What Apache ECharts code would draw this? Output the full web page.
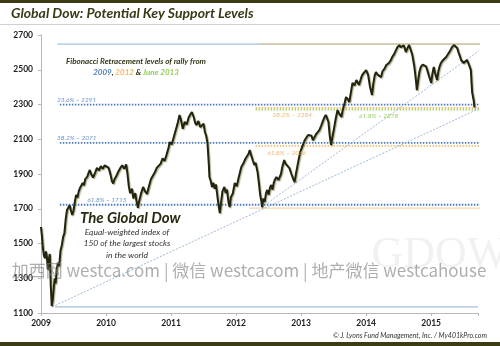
<!DOCTYPE html>
<html><head><meta charset="utf-8">
<script src="https://cdn.jsdelivr.net/npm/echarts@6/dist/echarts.min.js"></script>
<style>html,body{margin:0;padding:0;background:#fff}#c{width:500px;height:346px}</style>
</head><body><div id="c"></div>
<script>
// ---------- data ----------
const chartTitle = 'Global Dow: Potential Key Support Levels';
const xTickYears = [2009, 2010, 2011, 2012, 2013, 2014, 2015];
const yTickValues = [1100, 1300, 1500, 1700, 1900, 2100, 2300, 2500, 2700];

// [decimal year, index level]
const globalDow = [
[2009.00,1595],[2009.015,1540],[2009.03,1470],[2009.045,1430],[2009.06,1415],[2009.075,1455],[2009.09,1425],[2009.105,1350],[2009.12,1405],[2009.135,1440],[2009.15,1260],[2009.165,1140],[2009.18,1175],[2009.195,1240],[2009.21,1300],[2009.225,1270],[2009.24,1345],[2009.26,1390],[2009.28,1370],[2009.30,1460],[2009.32,1490],[2009.34,1537],[2009.36,1560],[2009.38,1640],[2009.40,1693],[2009.42,1700],[2009.44,1720],[2009.46,1690],[2009.48,1664],[2009.50,1690],[2009.52,1740],[2009.54,1780],[2009.56,1765],[2009.58,1800],[2009.60,1820],[2009.62,1810],[2009.64,1848],[2009.66,1835],[2009.68,1870],[2009.71,1883],[2009.73,1905],[2009.75,1923],[2009.77,1900],[2009.80,1880],[2009.83,1905],[2009.86,1935],[2009.89,1920],[2009.92,1945],[2009.95,1930],[2009.98,1950],
[2010.01,1960],[2010.04,1935],[2010.07,1895],[2010.09,1860],[2010.11,1845],[2010.13,1870],[2010.16,1890],[2010.19,1915],[2010.22,1935],[2010.25,1950],[2010.28,1930],[2010.31,1955],[2010.33,1900],[2010.35,1830],[2010.37,1790],[2010.40,1815],[2010.42,1760],[2010.45,1790],[2010.47,1740],[2010.49,1705],[2010.51,1745],[2010.54,1790],[2010.57,1825],[2010.60,1800],[2010.63,1785],[2010.66,1830],[2010.69,1870],[2010.72,1890],[2010.75,1910],[2010.78,1935],[2010.81,1925],[2010.84,1960],[2010.87,1990],[2010.90,1975],[2010.93,2010],[2010.96,2050],[2010.98,2084],
[2011.01,2070],[2011.04,2110],[2011.07,2150],[2011.10,2190],[2011.13,2240],[2011.15,2215],[2011.18,2160],[2011.21,2200],[2011.24,2185],[2011.27,2225],[2011.30,2245],[2011.32,2257],[2011.35,2225],[2011.37,2195],[2011.39,2182],[2011.42,2205],[2011.45,2170],[2011.47,2165],[2011.50,2190],[2011.52,2142],[2011.54,2120],[2011.56,2078],[2011.58,1960],[2011.59,1883],[2011.61,1860],[2011.63,1825],[2011.65,1850],[2011.67,1815],[2011.69,1840],[2011.71,1780],[2011.73,1720],[2011.75,1675],[2011.77,1740],[2011.79,1800],[2011.82,1825],[2011.84,1790],[2011.86,1810],[2011.88,1745],[2011.90,1710],[2011.92,1765],[2011.95,1790],[2011.98,1848],
[2012.01,1830],[2012.04,1880],[2012.06,1910],[2012.08,1940],[2012.11,1960],[2012.14,1985],[2012.16,1998],[2012.19,2015],[2012.21,2038],[2012.23,2010],[2012.26,1975],[2012.28,1952],[2012.30,1965],[2012.33,1911],[2012.35,1850],[2012.37,1780],[2012.39,1740],[2012.40,1710],[2012.42,1760],[2012.44,1740],[2012.46,1790],[2012.48,1808],[2012.50,1780],[2012.52,1820],[2012.54,1837],[2012.56,1810],[2012.58,1850],[2012.60,1870],[2012.62,1883],[2012.65,1865],[2012.67,1854],[2012.69,1900],[2012.71,1940],[2012.74,1980],[2012.76,1960],[2012.79,1955],[2012.82,1934],[2012.85,1900],[2012.88,1870],[2012.90,1854],[2012.92,1900],[2012.95,1960],[2012.97,1998],[2012.99,2030],
[2013.02,2060],[2013.05,2090],[2013.08,2110],[2013.11,2125],[2013.13,2136],[2013.16,2120],[2013.18,2095],[2013.20,2107],[2013.23,2130],[2013.26,2120],[2013.28,2153],[2013.31,2180],[2013.34,2210],[2013.36,2228],[2013.38,2240],[2013.40,2251],[2013.42,2200],[2013.44,2120],[2013.46,2067],[2013.48,2110],[2013.51,2171],[2013.53,2215],[2013.56,2268],[2013.58,2250],[2013.60,2240],[2013.62,2228],[2013.64,2270],[2013.67,2310],[2013.69,2343],[2013.72,2330],[2013.74,2314],[2013.77,2380],[2013.79,2424],[2013.82,2410],[2013.85,2441],[2013.87,2430],[2013.89,2412],[2013.92,2450],[2013.94,2470],[2013.97,2485],
[2014.00,2498],[2014.03,2470],[2014.06,2400],[2014.08,2370],[2014.09,2355],[2014.11,2420],[2014.13,2465],[2014.15,2487],[2014.18,2470],[2014.20,2480],[2014.23,2458],[2014.25,2490],[2014.28,2505],[2014.31,2527],[2014.33,2520],[2014.35,2539],[2014.38,2555],[2014.40,2573],[2014.43,2590],[2014.46,2614],[2014.48,2630],[2014.51,2642],[2014.53,2630],[2014.55,2625],[2014.58,2640],[2014.61,2602],[2014.63,2620],[2014.66,2642],[2014.68,2620],[2014.71,2585],[2014.74,2520],[2014.76,2458],[2014.78,2383],[2014.80,2440],[2014.82,2490],[2014.84,2516],[2014.87,2530],[2014.89,2539],[2014.92,2520],[2014.94,2498],[2014.97,2460],
[2015.00,2424],[2015.02,2480],[2015.04,2516],[2015.06,2480],[2015.09,2441],[2015.11,2490],[2015.13,2520],[2015.15,2539],[2015.18,2555],[2015.21,2565],[2015.23,2573],[2015.25,2585],[2015.27,2596],[2015.30,2615],[2015.32,2630],[2015.35,2642],[2015.37,2635],[2015.40,2625],[2015.42,2600],[2015.44,2580],[2015.46,2556],[2015.48,2545],[2015.50,2539],[2015.52,2550],[2015.55,2556],[2015.57,2540],[2015.59,2520],[2015.61,2498],[2015.62,2430],[2015.63,2370],[2015.645,2380],[2015.655,2320],[2015.665,2283]
];

// Fibonacci levels
const rallyHigh = 2648;
const low2009 = 1135;
const low2012 = 1704;
const fib2009 = [ {pct:'23.6%', v:2291}, {pct:'38.2%', v:2071}, {pct:'61.8%', v:1715} ];
const fib2012 = [ {pct:'38.2%', v:2284}, {pct:'61.8%', v:2066} ];
const fib2013 = [ {pct:'61.8%', v:2278} ];
const span2009 = [2009.29, 2015.75];
const span2012 = [2012.30, 2015.75];
const span2013 = [2012.30, 2015.75];
const trend2009 = [[2009.17, 1135], [2015.89, 2303]];
const trend2012 = [[2012.40, 1710], [2015.73, 2608]];
const labelYears2009 = [2009.245, 2009.245, 2009.71];
const labelYears2012 = [2012.56, 2012.48];
const labelYears2013 = [2013.89];

// ---------- styles ----------
const C_BLUE = '#4a78bf', C_TAN = '#f0c070', C_GREEN = '#a8d870';
const C_TREND = '#9fb6dc', C_DARK = '#37371a';

const chart = echarts.init(document.getElementById('c'), null, {renderer: 'canvas'});

function hLine(v, span, color, type, width, z) {
  return { type: 'line', data: [[span[0], v], [span[1], v]], symbol: 'none', silent: true,
    clip: false, animation: false, z: z || 2,
    lineStyle: { color: color, width: width, type: type } };
}
function lbl(year, v, text, color, dy) {
  return { value: [year, v], label: { show: true, formatter: text, color: color, offset: [0, dy] } };
}
const series = [];
series.push(hLine(rallyHigh, [2009.25, 2015.75], '#a8bee0', 'solid', 1.2));
series.push(hLine(rallyHigh, [2012.35, 2015.75], '#d8c890', 'solid', 1.2, 3));
series.push(hLine(low2009, [2009.22, 2015.72], '#a8bee0', 'solid', 1.2));
series.push(hLine(low2012, [2012.20, 2015.75], '#f3d8a4', 'solid', 1.2));
fib2013.forEach(f => series.push(hLine(f.v - 8, span2013, C_GREEN, [1.5, 1.5], 1.8, 3)));
fib2012.forEach(f => series.push(hLine(f.v - 4, span2012, C_TAN, [1.5, 1.5], 1.8, 3)));
fib2009.forEach(f => series.push(hLine(f.v + 8, span2009, C_BLUE, [1.5, 1.5], 1.8, 4)));
series.push({ type: 'line', data: trend2009, symbol: 'none', clip: false, silent: true, animation: false, z: 5,
  lineStyle: { color: C_TREND, width: 1, type: [2, 1.5] } });
series.push({ type: 'line', data: trend2012, symbol: 'none', clip: false, silent: true, animation: false, z: 5,
  lineStyle: { color: C_TREND, width: 1, type: [2, 1.5] } });
series.push({ type: 'line', data: globalDow, symbol: 'none', animation: false, z: 10,
  lineStyle: { color: '#23230e', width: 2, shadowColor: 'rgba(110,110,50,0.55)', shadowOffsetX: 1, shadowOffsetY: 1, shadowBlur: 1 } });
const labelData = [];
fib2009.forEach((f, i) => labelData.push(lbl(labelYears2009[i], f.v, f.pct + ' – ' + f.v, C_BLUE, -6)));
fib2012.forEach((f, i) => labelData.push(lbl(labelYears2012[i], f.v, f.pct + ' – ' + f.v, '#e8a850', 8)));
fib2013.forEach((f, i) => labelData.push(lbl(labelYears2013[i], f.v, f.pct + ' – ' + f.v, '#86c040', 8)));
series.push({ type: 'scatter', data: labelData, symbolSize: 0, silent: true, animation: false, z: 12,
  label: { show: true, position: 'inside', align: 'left', verticalAlign: 'middle',
    fontFamily: 'Lato', fontStyle: 'italic', fontSize: 6.5 } });

const font = 'Lato';
chart.setOption({
  animation: false,
  grid: { left: 41, right: 22, top: 35, bottom: 33 },
  xAxis: { type: 'value', min: xTickYears[0], max: 2015.72, interval: 1,
    axisLine: { lineStyle: { color: '#b8b8b8', width: 1 } },
    axisTick: { show: true, length: 3, lineStyle: { color: '#b8b8b8' } },
    splitLine: { show: false },
    axisLabel: { margin: 6, fontFamily: font, fontWeight: 'bold', fontSize: 8.5, color: '#222',
      formatter: v => (Math.abs(v - Math.round(v)) < 1e-6 && xTickYears.indexOf(Math.round(v)) >= 0) ? String(Math.round(v)) : '' } },
  yAxis: { type: 'value', min: yTickValues[0], max: yTickValues[yTickValues.length - 1], interval: 200,
    axisLine: { show: true, lineStyle: { color: '#b8b8b8', width: 1 } },
    axisTick: { show: true, length: 3, lineStyle: { color: '#b8b8b8' } },
    splitLine: { show: false },
    axisLabel: { margin: 8, fontFamily: font, fontWeight: 'bold', fontSize: 8.5, color: '#222',
      formatter: v => String(v) } },
  series: series,
  graphic: [
    { type: 'rect', shape: { x: 0, y: 0, width: 500, height: 3 }, style: { fill: '#3b3b14' }, z: 100 },
    { type: 'rect', shape: { x: 0, y: 342, width: 500, height: 4 }, style: { fill: '#3b3b14' }, z: 100 },
    { type: 'line', shape: { x1: 0, y1: 24.5, x2: 500, y2: 24.5 }, style: { stroke: '#d0d0d0', lineWidth: 1 }, z: 100 },
    { type: 'text', left: 11, top: 6, z: 100, style: { text: chartTitle, font: 'italic bold 14px Lato', fill: '#3a3a18' } },
    { type: 'text', x: 136, y: 61, z: 100, style: { text: 'Fibonacci Retracement levels of rally from', font: 'italic bold 8px Lato', fill: C_DARK, align: 'center', verticalAlign: 'middle' } },
    { type: 'text', x: 136, y: 72, z: 100, style: { text: '{b|2009}, {t|2012} & {g|June 2013}', align: 'center', verticalAlign: 'middle',
        font: 'italic bold 8px Lato', fill: C_DARK,
        rich: { b: { fill: '#4f81bd', font: 'italic bold 8px Lato' }, t: { fill: '#f0b860', font: 'italic bold 8px Lato' }, g: { fill: '#92d050', font: 'italic bold 8px Lato' } } } },
    { type: 'text', x: 80, y: 218, z: 100, style: { text: 'The Global Dow', font: 'italic bold 15px Lato', fill: '#2a2a12', verticalAlign: 'middle' } },
    { type: 'text', x: 127, y: 232, z: 100, style: { text: 'Equal-weighted index of', font: 'italic 8.5px Lato', fill: '#333', align: 'center', verticalAlign: 'middle' } },
    { type: 'text', x: 127, y: 243.5, z: 100, style: { text: '150 of the largest stocks', font: 'italic 8.5px Lato', fill: '#333', align: 'center', verticalAlign: 'middle' } },
    { type: 'text', x: 127, y: 255, z: 100, style: { text: 'in the world', font: 'italic 8.5px Lato', fill: '#333', align: 'center', verticalAlign: 'middle' } },
    { type: 'text', x: 487, y: 336, z: 100, style: { text: '© J. Lyons Fund Management, Inc. / My401kPro.com', font: 'italic 7px Lato', fill: '#333', align: 'right', verticalAlign: 'middle' } },
    { type: 'text', x: 440, y: 255, z: 1, style: { text: 'GDOW', font: '44px "Liberation Serif"', fill: '#f1f1f1', align: 'center', verticalAlign: 'middle' } },
    { type: 'text', x: 249, y: 271, z: 101, style: { text: '加西网 westca.com | 微信 westcacom | 地产微信 westcahouse', font: '17px "Noto Sans CJK SC"', fill: 'rgba(120,120,120,0.6)', align: 'center', verticalAlign: 'middle' } }
  ]
});
</script>
</body></html>
